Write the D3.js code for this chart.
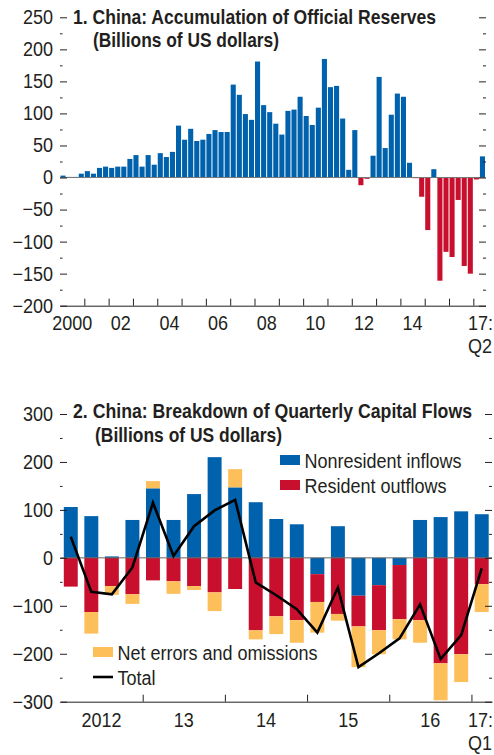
<!DOCTYPE html>
<html>
<head>
<meta charset="utf-8">
<script src="https://cdn.jsdelivr.net/npm/d3@7"></script>
<style>
  body { margin: 0; background: #fff; }
  svg text { font-family: "Liberation Sans Narrow", "Arial Narrow", "Liberation Sans", sans-serif; fill: #231f20; font-size: 20px; }
  svg text.title { font-weight: bold; font-size: 21px; }
</style>
</head>
<body>
<div id="chart"></div>
<script>
// Panel 1: accumulation of official reserves, quarterly 2000Q1 - 2017Q2 (billions of US dollars)
const reserveValues = [
  3, 1, 1, 6,          // 2000
  10, 6, 15, 17,       // 2001
  15, 17, 17, 29,      // 2002
  35, 17, 35, 20,      // 2003
  38, 32, 40, 81,      // 2004
  59, 76, 57, 59,      // 2005
  68, 74, 71, 71,      // 2006
  145, 129, 99, 90,    // 2007
  181, 113, 102, 84,   // 2008
  67, 104, 106, 126,   // 2009
  96, 82, 109, 185,    // 2010
  141, 143, 92, 12,    // 2011
  74, -12, -2, 34,     // 2012
  157, 46, 98, 131,    // 2013
  126, 23, -1, -30,    // 2014
  -82, 13, -161, -116, // 2015
  -124, -35, -138, -150, // 2016
  -3, 33               // 2017
];
const reserveQuarters = reserveValues.map((d, i) => (2000 + Math.floor(i / 4)) + "Q" + (i % 4 + 1));
const reserveYearTicks = [2000, 2002, 2004, 2006, 2008, 2010, 2012, 2014];
const reserveYearLabels = ["2000", "02", "04", "06", "08", "10", "12", "14"];
const reserveMajorTicks = [-200, -150, -100, -50, 0, 50, 100, 150, 200, 250];
const reserveMinorTicks = [-175, -125, -75, -25, 25, 75, 125, 175, 225];

// Panel 2: breakdown of quarterly capital flows, 2012Q1 - 2017Q1
const flowQuarters = [
  "2012Q1", "2012Q2", "2012Q3", "2012Q4",
  "2013Q1", "2013Q2", "2013Q3", "2013Q4",
  "2014Q1", "2014Q2", "2014Q3", "2014Q4",
  "2015Q1", "2015Q2", "2015Q3", "2015Q4",
  "2016Q1", "2016Q2", "2016Q3", "2016Q4",
  "2017Q1"
];
const nonresidentInflows = [106, 87, 3, 79, 145, 79, 133, 210, 147, 116, 81, 70, -34, 66, -79, -57, -15, 79, 85, 97, 91];
const residentOutflows = [-60, -113, -59, -76, -47, -49, -59, -72, -65, -151, -122, -130, -58, -117, -64, -94, -113, -130, -220, -201, -55];
const netErrors = [0, -45, -18, -20, 15, -26, -8, -39, 38, -19, -37, -47, -64, -14, -85, -50, -42, -47, -77, -58, -58];
const totalFlows = [44, -71, -76, -20, 115, 4, 66, 99, 121, -51, -78, -107, -156, -62, -228, -199, -168, -97, -211, -161, -22];
const flowYearTicks = [2012, 2013, 2014, 2015, 2016];
const flowYearLabels = ["2012", "13", "14", "15", "16"];
const flowMajorTicks = [-300, -200, -100, 0, 100, 200, 300];
const flowMinorTicks = [-250, -150, -50, 50, 150, 250];

const blue = "#0061ad";
const red = "#c8102e";
const orange = "#fdbf5a";
const ink = "#231f20";

const svg = d3.select("#chart").append("svg").attr("width", 494).attr("height", 755);

// "2012Q3" -> 2012.5
function quarterTime(q) {
  const parts = q.split("Q");
  return +parts[0] + (+parts[1] - 1) / 4;
}
const fmt = (d) => (d < 0 ? "\u2212" + -d : "" + d);

function drawYAxes(y, major, minor, xl, xr) {
  svg.append("g")
    .attr("transform", `translate(${xl},0)`)
    .call(d3.axisLeft(y).tickValues(major).tickSize(-7).tickPadding(7).tickFormat(fmt))
    .call((g) => g.attr("font-size", null).attr("font-family", null).style("color", ink))
    .call((g) => g.select(".domain").remove());
  svg.append("g")
    .attr("transform", `translate(${xl},0)`)
    .call(d3.axisLeft(y).tickValues(minor).tickSize(-2.5).tickFormat(""))
    .call((g) => g.style("color", ink))
    .call((g) => g.select(".domain").remove());
  svg.append("g")
    .attr("transform", `translate(${xr},0)`)
    .call(d3.axisRight(y).tickValues(major).tickSize(-7).tickFormat(""))
    .call((g) => g.style("color", ink))
    .call((g) => g.select(".domain").remove());
  svg.append("g")
    .attr("transform", `translate(${xr},0)`)
    .call(d3.axisRight(y).tickValues(minor).tickSize(-3).tickFormat(""))
    .call((g) => g.style("color", ink))
    .call((g) => g.select(".domain").remove());
}

// ---------- panel 1 ----------
const x1 = d3.scaleLinear().domain([2000, 2017.5]).range([60, 485.5]);
const y1 = d3.scaleLinear().domain([-200, 250]).range([305.7, 17.3]);

svg.append("g")
  .selectAll("rect")
  .data(reserveValues)
  .enter()
  .append("rect")
  .attr("x", (d, i) => x1(quarterTime(reserveQuarters[i])) + 0.5)
  .attr("width", (d, i) => x1(quarterTime(reserveQuarters[i]) + 0.25) - x1(quarterTime(reserveQuarters[i])) - 1)
  .attr("y", (d) => y1(Math.max(0, d)))
  .attr("height", (d) => Math.abs(y1(d) - y1(0)))
  .attr("fill", (d) => (d < 0 ? red : blue));

svg.append("line")
  .attr("x1", x1.range()[0]).attr("x2", x1.range()[1])
  .attr("y1", y1(0)).attr("y2", y1(0))
  .attr("stroke", "#777").attr("stroke-width", 1);

drawYAxes(y1, reserveMajorTicks, reserveMinorTicks, 60, 486);

svg.append("g")
  .attr("transform", `translate(0,${y1(-200)})`)
  .call(d3.axisBottom(x1).tickValues(d3.range(2001, 2018)).tickSize(-7).tickSizeOuter(0).tickFormat(""))
  .call((g) => g.style("color", ink));

svg.append("g")
  .selectAll("text")
  .data(reserveYearTicks)
  .enter()
  .append("text")
  .attr("x", (d) => x1(d + 0.5))
  .attr("y", 330)
  .attr("text-anchor", "middle")
  .text((d, i) => reserveYearLabels[i]);
svg.append("text").attr("x", 493).attr("y", 330).attr("text-anchor", "end").text("17:");
svg.append("text").attr("x", 492).attr("y", 353).attr("text-anchor", "end").text("Q2");

svg.append("text").attr("class", "title").attr("x", 73).attr("y", 24)
  .attr("data-width", 363)
  .text("1. China: Accumulation of Official Reserves");
svg.append("text").attr("class", "title").attr("x", 93).attr("y", 47)
  .attr("data-width", 186)
  .text("(Billions of US dollars)");

// ---------- panel 2 ----------
const x2 = d3.scaleLinear().domain([2012, 2017.25]).range([60.5, 492]);
const y2 = d3.scaleLinear().domain([-300, 300]).range([701.7, 414]);

const flowKeys = ["inflows", "outflows", "errors"];
const flowColors = { inflows: blue, outflows: red, errors: orange };
const flowRows = flowQuarters.map((q, i) => ({
  quarter: q,
  inflows: nonresidentInflows[i],
  outflows: residentOutflows[i],
  errors: netErrors[i],
}));
const stacked = d3.stack().keys(flowKeys).offset(d3.stackOffsetDiverging)(flowRows);

const barPad = 3.3;
svg.append("g")
  .selectAll("g")
  .data(stacked)
  .enter()
  .append("g")
  .attr("fill", (s) => flowColors[s.key])
  .selectAll("rect")
  .data((s) => s)
  .enter()
  .append("rect")
  .attr("x", (d) => x2(quarterTime(d.data.quarter)) + barPad)
  .attr("width", (d) => x2(quarterTime(d.data.quarter) + 0.25) - x2(quarterTime(d.data.quarter)) - 2 * barPad)
  .attr("y", (d) => y2(Math.max(d[0], d[1])))
  .attr("height", (d) => Math.abs(y2(d[0]) - y2(d[1])));

svg.append("line")
  .attr("x1", x2.range()[0]).attr("x2", x2.range()[1])
  .attr("y1", y2(0)).attr("y2", y2(0))
  .attr("stroke", "#666").attr("stroke-width", 1);

const totalLine = d3.line()
  .x((d, i) => x2(quarterTime(flowQuarters[i]) + 0.125))
  .y((d) => y2(d));
svg.append("path")
  .datum(totalFlows)
  .attr("d", totalLine)
  .attr("fill", "none")
  .attr("stroke", "#000")
  .attr("stroke-width", 2.6);

drawYAxes(y2, flowMajorTicks, flowMinorTicks, 60, 492);

svg.append("g")
  .attr("transform", `translate(0,${y2(-300)})`)
  .call(d3.axisBottom(x2).tickValues([2013, 2014, 2015, 2016, 2017]).tickSize(-7).tickSizeOuter(0).tickFormat(""))
  .call((g) => g.style("color", ink));

svg.append("g")
  .selectAll("text")
  .data(flowYearTicks)
  .enter()
  .append("text")
  .attr("x", (d) => x2(d + 0.5))
  .attr("y", 727)
  .attr("text-anchor", "middle")
  .text((d, i) => flowYearLabels[i]);
svg.append("text").attr("x", 493).attr("y", 727).attr("text-anchor", "end").text("17:");
svg.append("text").attr("x", 492).attr("y", 750).attr("text-anchor", "end").text("Q1");

svg.append("text").attr("class", "title").attr("x", 73).attr("y", 418)
  .attr("data-width", 399)
  .text("2. China: Breakdown of Quarterly Capital Flows");
svg.append("text").attr("class", "title").attr("x", 95).attr("y", 442)
  .attr("data-width", 187)
  .text("(Billions of US dollars)");

// legend
const legendItems = [
  { label: "Nonresident inflows", color: blue, x: 280, y: 455, type: "box" },
  { label: "Resident outflows", color: red, x: 280, y: 480, type: "box" },
  { label: "Net errors and omissions", color: orange, x: 93, y: 647, type: "box" },
  { label: "Total", color: "#000", x: 93, y: 672, type: "line" },
];
const legend = svg.append("g")
  .selectAll("g")
  .data(legendItems)
  .enter()
  .append("g")
  .attr("transform", (d) => `translate(${d.x},${d.y})`);
legend.filter((d) => d.type === "box")
  .append("rect").attr("width", 20).attr("height", 10).attr("fill", (d) => d.color);
legend.filter((d) => d.type === "line")
  .append("line").attr("x1", 0).attr("x2", 20).attr("y1", 5).attr("y2", 5)
  .attr("stroke", (d) => d.color).attr("stroke-width", 2.6);
legend.append("text").attr("x", 24.5).attr("y", 12.5).text((d) => d.label);

// no condensed face installed: squeeze the regular face to the narrow width of the original
svg.selectAll("text").each(function () {
  const target = this.getAttribute("data-width");
  const w = this.getComputedTextLength();
  if (w > 0) d3.select(this).attr("textLength", target ? +target : w * 0.9).attr("lengthAdjust", "spacingAndGlyphs");
});
</script>
</body>
</html>
